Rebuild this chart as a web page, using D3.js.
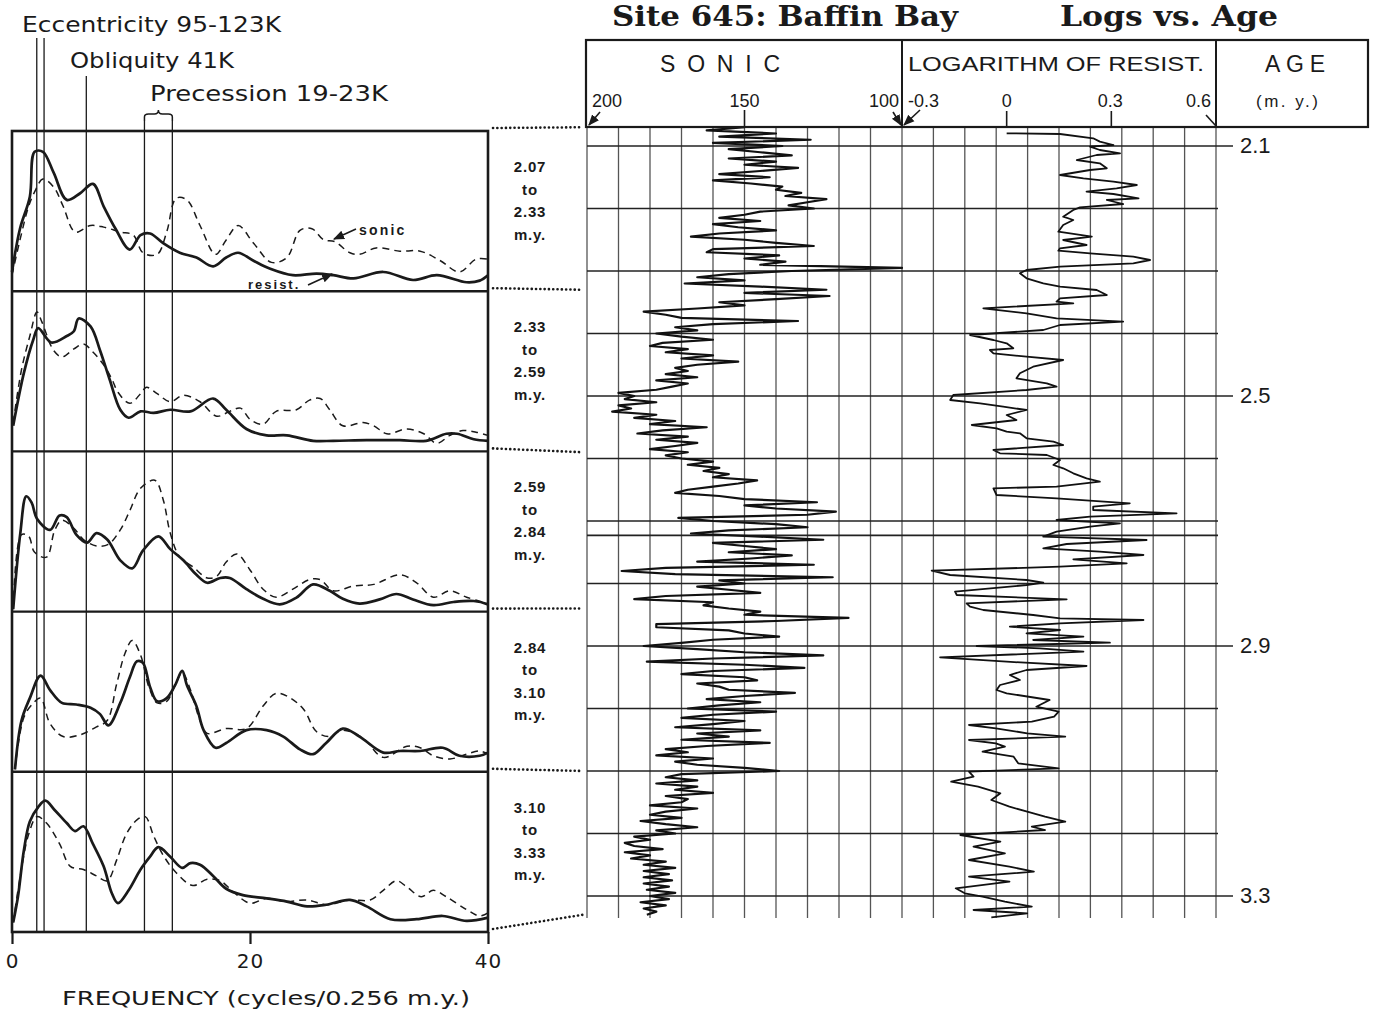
<!DOCTYPE html>
<html>
<head>
<meta charset="utf-8">
<script src="https://cdn.jsdelivr.net/npm/d3@7"></script>
<style>
  body { margin: 0; background: #fff; }
  svg { display: block; }
</style>
</head>
<body>
<svg id="fig" width="1376" height="1011"></svg>
<script>
// ---------- Orbital cycles (periods in thousands of years) ----------
const eccentricityK = [123, 95];
const obliquityK = [41];
const precessionK = [23, 19];
const windowK = 256;               // spectral window length: 0.256 m.y.
const freqTicks = [0, 20, 40];

// ---------- Age windows of the five spectra ----------
const windowBounds = [2.07, 2.33, 2.59, 2.84, 3.10, 3.33];
const windowLabels = ["2.07", "2.33", "2.59", "2.84", "3.10", "3.33"];

// ---------- Power spectra: [frequency, relative power 0-100] ----------
const sonicSpec1 = [[0,10],[0.67,32],[1.4,53],[1.9,62],[2.6,70],[3.5,65],[4.3,53],[5.3,37],[6.6,41],[7.7,40],[9.1,37],[10.2,35],[11,24],[12.2,23],[13,37],[13.8,58],[14.7,57],[15.8,41],[17.1,23],[18,32],[19,41],[20.3,30],[21.8,18],[23.1,21],[24.2,38],[25.2,39],[26.2,32],[27.1,31],[28.4,24],[29.2,23],[30.6,27],[32.6,25],[34.3,25],[36,19],[37.6,12],[39,20],[40,20]];
const resistSpec1 = [[0,12],[0.67,39],[1.5,59],[1.9,87],[2.6,87],[3.5,74],[4.6,57],[5.7,61],[6.8,67],[7.7,53],[8.7,39],[9.9,26],[10.8,35],[11.6,36],[12.7,30],[14.1,24],[15.5,21],[16.9,15.5],[18,21],[19,24],[20.3,19],[21.7,14],[23.6,10],[25.6,11],[27,10],[28.7,8],[31.2,12],[33.7,7],[35.7,10],[38.2,5.6],[39.3,6.6],[40,10]];

const sonicSpec2 = [[0.1,18],[0.8,51],[1.5,72],[2.1,87],[2.5,81],[3.5,63],[4.2,59],[5.2,64],[6,67],[6.8,62],[7.7,54],[8.4,45],[8.9,37],[9.9,30],[10.8,36],[11.3,40],[12.2,36],[13.3,31],[14.4,35],[15.8,31],[17.2,22],[18.3,25],[19.2,27],[20,20],[21.1,17],[22.2,25],[23.9,26],[25,32],[25.9,33],[26.7,26],[27.8,16],[29.5,18],[30.4,16],[31.5,11],[33.2,14],[34.6,11],[35.7,5],[36.8,10],[37.9,13],[39,12],[40,10]];
const resistSpec2 = [[0.1,16],[1,49],[1.8,70],[2.2,77],[3.3,68],[4.6,72],[5.2,75],[5.6,83],[6.6,78],[7.4,63],[8.2,45],[9.1,26],[9.8,21],[10.8,25],[11.9,24],[13.3,26],[15,25],[16.9,33],[18,26],[19.7,14],[21.4,10],[23.1,10],[25.3,6.6],[27,6.6],[29.8,7],[32.6,7],[34.8,6.6],[36.5,11],[37.4,11],[38.8,7.6],[40,6.6]];

const sonicSpec3 = [[0.1,1.5],[0.8,48],[1.4,47],[1.9,37],[2.9,34],[3.6,51],[4.2,57],[5.2,52],[6,45],[7.1,41],[8.1,42],[9.1,51],[9.9,63],[10.8,77],[12,82],[12.7,70],[13.3,49],[14.1,34],[15.2,28],[16.4,21],[17.2,22],[18,31],[18.9,36],[20,26],[21.1,14],[22.2,9],[23.6,14],[25,20],[25.9,20],[27,13],[28.7,16],[30.4,17],[32.6,23],[34,18],[35.4,9],[36.8,13],[38.2,9],[40,5]];
const resistSpec3 = [[0.1,1.5],[0.7,49],[1.2,72],[1.65,68],[2.1,58],[3.2,51],[4,60],[4.6,59],[5.4,48],[6.3,43],[7.1,49],[8,45],[9.1,32],[10.1,27],[11,38],[12.3,47],[13.3,39],[14.4,32],[15.5,23],[16.4,18],[17.5,21],[18.3,21],[19.7,14],[21.1,8],[22.5,4.5],[23.9,8.7],[25.3,17],[26.7,13],[27.8,8],[29.2,5],[30.9,7.6],[32.3,11],[33.7,7.6],[35.4,4],[37.1,6],[38.8,6.6],[40,4.5]];

const sonicSpec4 = [[0.25,1.5],[1,34],[1.8,43],[2.4,46],[3.2,30],[4.3,22],[5.7,23],[7.1,28],[8,32],[8.8,55],[9.5,74],[10.1,82],[10.8,73],[11.5,53],[12.2,43],[13,44],[13.7,54],[14.3,62],[15,51],[15.8,32],[16.4,24],[18,27],[19.7,27],[21.1,41],[22.2,49],[23.4,46],[24.5,39],[25.6,25],[26.7,22],[27.8,26],[29.5,21],[31.2,9],[33.2,16],[34.3,15],[35.4,10],[36.8,8],[38.2,11],[39.3,13],[40,11]];
const resistSpec4 = [[0.25,1.5],[0.8,32],[1.5,46],[2.4,60],[3.2,51],[4.2,43],[5.4,42],[6.6,40],[7.4,36],[8.1,29],[9.1,43],[9.9,59],[10.5,69],[11,68],[11.6,53],[12.2,44],[13,46],[13.7,54],[14.3,63],[14.7,54],[15.5,41],[16.1,26],[17.1,15],[18,18],[19.7,26],[21.4,26],[22.8,22],[24.2,14],[25.3,11],[26.4,18],[27.8,27],[29.2,22],[31.2,12],[32.6,13],[34.3,13],[36.2,15],[37.6,10],[39.3,10],[40,12]];

const sonicSpec5 = [[0.1,6],[0.7,35],[1.4,61],[2.1,72],[2.9,68],[4,55],[4.9,41],[6,39],[7.1,35],[8,32],[8.8,45],[9.6,61],[10.5,70],[11.2,72],[11.9,60],[12.7,48],[13.8,37],[15.2,29],[16.4,33],[17.5,32],[18.6,25],[20,18],[21.4,21],[23.1,19],[24.8,20],[26.4,17],[28.4,20],[30.1,20],[31.2,26],[32.3,32],[33.2,28],[34.4,22],[35.4,26],[36.5,22],[38.2,14],[39.3,10],[40,12]];
const resistSpec5 = [[0.1,6],[0.5,22],[1,51],[1.5,69],[2.2,78],[2.8,82],[3.6,76],[4.6,68],[5.3,63],[6,66],[6.8,55],[7.7,41],[8.4,24],[8.9,18],[9.8,26],[10.8,39],[11.6,47],[12.3,53],[13.3,47],[14.3,40],[15,43],[15.8,42],[16.9,35],[18,27],[19.4,23],[21.4,21],[23.1,19],[24.8,16],[26.4,17],[28.4,20],[29.8,16],[31.8,8],[34,8],[36.2,10],[38.2,7],[40,9]];

// ---------- Well logs vs. age ----------
const sonicStart = 2.07, sonicStep = 0.005;   // m.y.
const sonicLog = [
  150,162,140,158,129,160,138,155,145,135,
  155,140,150,133,145,158,142,160,148,138,
  140,132,137,124,130,136,128,145,150,158,
  145,160,152,140,158,167,150,140,128,160,
  162,139,150,137,145,100,135,155,165,150,
  169,145,124,150,123,140,158,150,165,182,
  175,170,133,160,172,165,178,170,160,176,
  180,168,175,160,170,152,165,172,168,175,
  165,178,168,173,178,190,185,188,178,190,
  186,192,178,185,172,180,162,176,184,168,
  178,165,172,180,168,175,170,160,168,158,
  163,155,160,146,152,160,168,172,158,150,
  127,150,140,121,130,171,160,140,130,155,
  167,145,125,160,150,140,155,135,148,165,
  128,175,189,172,122,158,150,165,155,145,
  175,185,160,163,155,145,150,117,140,178,
  178,155,150,139,160,170,182,165,150,125,
  160,181,150,131,160,170,150,146,165,158,
  155,134,150,162,145,158,168,140,160,170,
  150,160,172,145,165,155,170,142,162,175,
  168,178,160,172,165,150,139,170,175,165,
  178,165,172,160,175,168,170,180,165,175,
  180,170,183,175,165,178,172,185,180,188,
  185,176,188,180,186,175,182,172,182,174,
  182,173,182,174,181,172,180,174,183,175,
  182,178,181
];

// log10 resistivity: [age m.y., value]
const resistLog = [
  [2.0797,0.0],[2.0808,0.153],[2.0877,0.248],[2.093,0.267],[2.0984,0.306],[2.101,0.239],[2.1064,0.267],[2.1117,0.325],
  [2.1144,0.258],[2.1224,0.201],[2.1277,0.267],[2.1357,0.287],[2.1384,0.239],[2.1464,0.153],[2.1517,0.220],[2.1571,0.306],
  [2.1624,0.373],[2.1677,0.315],[2.1731,0.229],[2.1768,0.306],[2.1837,0.378],[2.1864,0.287],[2.1928,0.334],[2.1981,0.210],
  [2.2024,0.191],[2.2131,0.162],[2.2184,0.191],[2.2264,0.162],[2.2371,0.148],[2.2451,0.244],[2.2504,0.162],[2.2584,0.229],
  [2.2637,0.153],[2.2675,0.148],[2.2717,0.239],[2.2771,0.363],[2.2824,0.411],[2.2877,0.363],[2.2931,0.153],[2.2984,0.057],
  [2.3037,0.038],[2.3117,0.057],[2.3197,0.105],[2.3251,0.153],[2.3304,0.258],[2.3384,0.287],[2.3437,0.153],[2.3491,0.143],
  [2.3517,0.191],[2.3597,-0.067],[2.3677,0.057],[2.3757,0.143],[2.3811,0.334],[2.3864,0.153],[2.3944,0.105],[2.4024,-0.105],
  [2.4104,-0.038],[2.4157,0.0],[2.4237,0.019],[2.4264,-0.048],[2.4317,-0.038],[2.4371,0.057],[2.4424,0.162],[2.4531,0.076],
  [2.4637,0.038],[2.4717,0.028],[2.4797,0.115],[2.4851,0.143],[2.4904,0.057],[2.4984,-0.153],[2.5064,-0.162],[2.5117,-0.076],
  [2.5171,-0.010],[2.5224,0.057],[2.5304,0.0],[2.5384,0.028],[2.5464,-0.10],[2.5517,-0.029],[2.5571,0.0],[2.5597,0.038],
  [2.5677,0.057],[2.5731,0.134],[2.5784,0.162],[2.5864,-0.038],[2.5917,-0.019],[2.5944,0.115],[2.6024,0.153],[2.6104,0.134],
  [2.6157,0.162],[2.6237,0.191],[2.6317,0.229],[2.6371,0.267],[2.6451,0.143],[2.6477,-0.038],[2.6584,-0.029],[2.6637,0.143],
  [2.6717,0.353],[2.6771,0.248],[2.6824,0.248],[2.6877,0.487],[2.6931,0.239],[2.6984,0.143],[2.7037,0.325],[2.7091,0.239],
  [2.7171,0.143],[2.7251,0.105],[2.7304,0.401],[2.7368,0.172],[2.7437,0.105],[2.7491,0.267],[2.7544,0.392],[2.7613,0.191],
  [2.7677,0.344],[2.7731,0.153],[2.7795,-0.215],[2.7864,-0.162],[2.7944,0.057],[2.7987,0.105],[2.8024,0.057],[2.8131,-0.148],
  [2.8184,-0.143],[2.8253,0.172],[2.8317,-0.115],[2.8371,-0.105],[2.8424,-0.067],[2.8504,0.076],[2.8557,0.153],[2.8584,0.392],
  [2.8637,0.153],[2.8691,0.009],[2.8744,0.153],[2.8797,0.057],[2.8851,0.220],[2.8904,0.076],[2.8947,0.296],[2.9,-0.086],
  [2.9037,0.095],[2.9091,0.220],[2.9181,-0.191],[2.9251,0.0],[2.932,0.229],[2.9384,0.057],[2.9464,0.009],[2.9544,0.038],
  [2.9624,-0.019],[2.9704,-0.029],[2.9757,0.0],[2.9864,0.123],[2.9971,0.085],[3.0051,0.149],[3.0131,0.136],[3.0211,0.072],
  [3.0264,-0.108],[3.0317,-0.031],[3.0397,0.059],[3.0451,0.168],[3.0504,-0.108],[3.0557,-0.031],[3.0611,-0.005],[3.0691,-0.069],
  [3.0771,0.02],[3.0877,0.033],[3.0957,0.149],[3.1011,-0.108],[3.1091,-0.095],[3.1171,-0.159],[3.1251,-0.082],[3.1357,-0.018],
  [3.1464,-0.044],[3.1571,0.008],[3.1651,0.059],[3.1731,0.110],[3.1811,0.168],[3.1891,0.072],[3.1944,0.110],[3.2024,-0.133],
  [3.2131,-0.018],[3.2211,-0.095],[3.2317,-0.005],[3.2424,-0.108],[3.2531,0.008],[3.2611,0.078],[3.2691,-0.108],[3.2771,0.008],
  [3.2877,-0.146],[3.2957,-0.120],[3.3011,-0.069],[3.3091,-0.005],[3.3171,0.072],[3.3224,-0.095],[3.3277,0.059],[3.3341,-0.044]
];

const sonicTicks = [200, 150, 100];
const resistTicks = [-0.3, 0, 0.3, 0.6];
const ageTicks = [2.1, 2.5, 2.9, 3.3];
const ageGrid = [2.1, 2.2, 2.3, 2.4, 2.5, 2.6, 2.7, 2.723, 2.8, 2.9, 3.0, 3.1, 3.2, 3.3];

// ---------- Drawing ----------
const svg = d3.select("#fig");
const sans = "'Liberation Sans', Arial, sans-serif";
const wide = "'DejaVu Sans', sans-serif";
const serif = "'DejaVu Serif', 'Liberation Serif', serif";
const ink = "#1a1a1a";

const defs = svg.append("defs");
defs.append("marker").attr("id", "arrow").attr("viewBox", "0 0 10 10")
  .attr("refX", 9).attr("refY", 5).attr("markerWidth", 7).attr("markerHeight", 7)
  .attr("orient", "auto-start-reverse")
  .append("path").attr("d", "M0,1 L10,5 L0,9 z").attr("fill", ink);

// scales
const freqX = d3.scaleLinear().domain([0, 40]).range([12, 488]);
const panelEdge = d3.scaleLinear().domain([0, 5]).range([131, 932]);
const ageY = d3.scaleLinear().domain([2.1, 3.3]).range([146, 896]);
const sonicX = d3.scaleLinear().domain([200, 100]).range([587, 902]);
const resistX = d3.scaleLinear().domain([-0.3, 0.6]).range([902, 1216]);

// ----- spectral panels -----
const spec = svg.append("g");
const specSets = [
  [sonicSpec1, resistSpec1], [sonicSpec2, resistSpec2], [sonicSpec3, resistSpec3],
  [sonicSpec4, resistSpec4], [sonicSpec5, resistSpec5]
];

// orbital period lines
const cycleGroups = [
  { label: "Eccentricity 95-123K", periods: eccentricityK, top: 38, tx: 22, ty: 32, len: 259 },
  { label: "Obliquity 41K", periods: obliquityK, top: 76, tx: 70, ty: 68, len: 164 },
  { label: "Precession 19-23K", periods: precessionK, top: 121, tx: 150, ty: 101, len: 238 }
];
cycleGroups.forEach(c => {
  c.periods.forEach(p => {
    spec.append("line")
      .attr("x1", freqX(windowK / p)).attr("x2", freqX(windowK / p))
      .attr("y1", c.top).attr("y2", panelEdge(5))
      .attr("stroke", ink).attr("stroke-width", 1.3);
  });
  spec.append("text").attr("x", c.tx).attr("y", c.ty)
    .attr("font-family", wide).attr("font-size", 22).attr("fill", ink)
    .attr("textLength", c.len).attr("lengthAdjust", "spacingAndGlyphs")
    .text(c.label);
});
// brace over the precession band
{
  const a = freqX(windowK / precessionK[0]), b = freqX(windowK / precessionK[1]), m = (a + b) / 2;
  spec.append("path")
    .attr("d", `M${a},121 L${a},117 Q${a},114 ${a + 4},114 L${m - 4},114 Q${m},114 ${m},110 Q${m},114 ${m + 4},114 L${b - 4},114 Q${b},114 ${b},117 L${b},121`)
    .attr("fill", "none").attr("stroke", ink).attr("stroke-width", 1.5);
}

specSets.forEach(([son, res], i) => {
  const y = d3.scaleLinear().domain([0, 100]).range([panelEdge(i + 1), panelEdge(i)]);
  const line = d3.line().x(d => freqX(d[0])).y(d => y(d[1])).curve(d3.curveCatmullRom.alpha(0.5));
  spec.append("path").attr("d", line(son)).attr("fill", "none")
    .attr("stroke", ink).attr("stroke-width", 1.5).attr("stroke-dasharray", "7,5");
  spec.append("path").attr("d", line(res)).attr("fill", "none")
    .attr("stroke", ink).attr("stroke-width", 2.7).attr("stroke-linejoin", "round");
});

// panel frame and dividers
spec.append("rect")
  .attr("x", freqX(0)).attr("y", panelEdge(0))
  .attr("width", freqX(40) - freqX(0)).attr("height", panelEdge(5) - panelEdge(0))
  .attr("fill", "none").attr("stroke", ink).attr("stroke-width", 2.6);
d3.range(1, 5).forEach(i => {
  spec.append("line").attr("x1", freqX(0)).attr("x2", freqX(40))
    .attr("y1", panelEdge(i)).attr("y2", panelEdge(i))
    .attr("stroke", ink).attr("stroke-width", 2.4);
});

// frequency axis
const fAxis = spec.append("g").attr("transform", `translate(0,${panelEdge(5)})`)
  .call(d3.axisBottom(freqX).tickValues(freqTicks).tickSize(12).tickPadding(6).tickFormat(d3.format("d")));
fAxis.select(".domain").remove();
fAxis.selectAll(".tick line").attr("stroke", ink).attr("stroke-width", 2.2);
fAxis.selectAll(".tick text").attr("font-family", wide).attr("font-size", 20).attr("fill", ink)
  .attr("dy", "0.9em").attr("letter-spacing", 1);
spec.append("text").attr("x", 62).attr("y", 1005)
  .attr("font-family", wide).attr("font-size", 20).attr("fill", ink)
  .attr("textLength", 408).attr("lengthAdjust", "spacingAndGlyphs")
  .text("FREQUENCY (cycles/0.256 m.y.)");

// series annotations
spec.append("text").attr("x", 359).attr("y", 235)
  .attr("font-family", sans).attr("font-weight", "bold").attr("font-size", 14)
  .attr("letter-spacing", 2.2).attr("fill", ink).text("sonic");
spec.append("line").attr("x1", 356).attr("y1", 229).attr("x2", 334).attr("y2", 239)
  .attr("stroke", ink).attr("stroke-width", 1.6).attr("marker-end", "url(#arrow)");
spec.append("text").attr("x", 248).attr("y", 289)
  .attr("font-family", sans).attr("font-weight", "bold").attr("font-size", 13)
  .attr("letter-spacing", 2).attr("fill", ink).text("resist.");
spec.append("line").attr("x1", 308).attr("y1", 285).attr("x2", 332).attr("y2", 274)
  .attr("stroke", ink).attr("stroke-width", 1.6).attr("marker-end", "url(#arrow)");

// ----- connectors between spectra and log ages -----
windowBounds.forEach((a, i) => {
  svg.append("line")
    .attr("x1", freqX(40) + 5).attr("y1", panelEdge(i) - 3)
    .attr("x2", sonicX(200) - 4).attr("y2", ageY(a))
    .attr("stroke", ink).attr("stroke-width", 2.6)
    .attr("stroke-dasharray", "0.1,4.2").attr("stroke-linecap", "round");
});
d3.range(5).forEach(i => {
  const mid = (panelEdge(i) + panelEdge(i + 1)) / 2 - 9;
  const lines = [windowLabels[i], "to", windowLabels[i + 1], "m.y."];
  lines.forEach((t, k) => {
    svg.append("text").attr("x", 530).attr("y", mid - 34 + k * 22.5)
      .attr("text-anchor", "middle").attr("dominant-baseline", "middle")
      .attr("font-family", sans).attr("font-weight", "bold").attr("font-size", 15).attr("fill", ink)
      .attr("letter-spacing", 0.8)
      .text(t);
  });
});

// ----- log tracks -----
const logs = svg.append("g");
const gridTop = 127, gridBottom = 918;

// vertical grid: 10 divisions per track
d3.range(200, 99, -10).forEach(v => {
  logs.append("line").attr("x1", sonicX(v)).attr("x2", sonicX(v))
    .attr("y1", gridTop).attr("y2", gridBottom)
    .attr("stroke", "#555").attr("stroke-width", 1.3);
});
d3.range(1, 11).forEach(k => {
  const v = -0.3 + k * 0.09;
  logs.append("line").attr("x1", resistX(v)).attr("x2", resistX(v))
    .attr("y1", gridTop).attr("y2", gridBottom)
    .attr("stroke", "#555").attr("stroke-width", 1.3);
});
// horizontal grid every 0.1 m.y.
ageGrid.forEach(a => {
  const major = ageTicks.some(t => Math.abs(t - a) < 1e-6);
  logs.append("line").attr("x1", sonicX(200)).attr("x2", major ? resistX(0.6) + 17 : resistX(0.6) + 2)
    .attr("y1", ageY(a)).attr("y2", ageY(a))
    .attr("stroke", "#222").attr("stroke-width", 1.6);
});
ageTicks.forEach(a => {
  logs.append("text").attr("x", 1240).attr("y", ageY(a) + 1)
    .attr("dominant-baseline", "middle")
    .attr("font-family", sans).attr("font-size", 22).attr("fill", ink)
    .text(d3.format(".1f")(a));
});

// sonic trace
const sonicPts = sonicLog.map((v, i) => [sonicStart + i * sonicStep, v]);
logs.append("path")
  .attr("d", d3.line().x(d => sonicX(d[1])).y(d => ageY(d[0]))(sonicPts))
  .attr("fill", "none").attr("stroke", "#111").attr("stroke-width", 2.2).attr("stroke-linejoin", "round");
// resistivity trace
logs.append("path")
  .attr("d", d3.line().x(d => resistX(d[1])).y(d => ageY(d[0]))(resistLog))
  .attr("fill", "none").attr("stroke", "#111").attr("stroke-width", 1.8).attr("stroke-linejoin", "round");

// ----- header -----
const head = svg.append("g");
head.append("rect").attr("x", 586).attr("y", 40).attr("width", 782).attr("height", 87)
  .attr("fill", "none").attr("stroke", ink).attr("stroke-width", 2.2);
[sonicX(100), resistX(0.6)].forEach(xv => {
  head.append("line").attr("x1", xv).attr("x2", xv).attr("y1", 40).attr("y2", 127)
    .attr("stroke", ink).attr("stroke-width", 2);
});
head.append("text").attr("x", 612).attr("y", 26)
  .attr("font-family", serif).attr("font-weight", "bold").attr("font-size", 28).attr("fill", ink)
  .attr("textLength", 346).attr("lengthAdjust", "spacingAndGlyphs")
  .text("Site 645: Baffin Bay");
head.append("text").attr("x", 1060).attr("y", 26)
  .attr("font-family", serif).attr("font-weight", "bold").attr("font-size", 28).attr("fill", ink)
  .attr("textLength", 218).attr("lengthAdjust", "spacingAndGlyphs")
  .text("Logs vs. Age");
head.append("text").attr("x", 660).attr("y", 72)
  .attr("font-family", sans).attr("font-size", 23).attr("fill", ink)
  .attr("textLength", 120).attr("lengthAdjust", "spacing")
  .text("SONIC");
head.append("text").attr("x", 908).attr("y", 71)
  .attr("font-family", sans).attr("font-size", 21).attr("fill", ink)
  .attr("textLength", 296).attr("lengthAdjust", "spacingAndGlyphs")
  .text("LOGARITHM OF RESIST.");
head.append("text").attr("x", 1265).attr("y", 72)
  .attr("font-family", sans).attr("font-size", 23).attr("fill", ink)
  .attr("textLength", 60).attr("lengthAdjust", "spacing")
  .text("AGE");
head.append("text").attr("x", 1256).attr("y", 107)
  .attr("font-family", sans).attr("font-size", 17).attr("fill", ink)
  .attr("textLength", 62).attr("lengthAdjust", "spacing")
  .text("(m. y.)");

// scale labels
const scaleText = (x, t, anchor) => head.append("text").attr("x", x).attr("y", 107)
  .attr("text-anchor", anchor).attr("font-family", sans).attr("font-size", 18).attr("fill", ink).text(t);
scaleText(sonicX(200) + 5, sonicTicks[0], "start");
scaleText(sonicX(150), sonicTicks[1], "middle");
scaleText(sonicX(100) - 3, sonicTicks[2], "end");
scaleText(resistX(-0.3) + 6, "-0.3", "start");
scaleText(resistX(0), "0", "middle");
scaleText(resistX(0.3) - 1, "0.3", "middle");
scaleText(resistX(0.6) - 5, "0.6", "end");

// scale markers
[150].forEach(v => head.append("line").attr("x1", sonicX(v)).attr("x2", sonicX(v))
  .attr("y1", 110).attr("y2", 127).attr("stroke", ink).attr("stroke-width", 1.6));
[0, 0.3].forEach(v => head.append("line").attr("x1", resistX(v)).attr("x2", resistX(v))
  .attr("y1", 111).attr("y2", 127).attr("stroke", ink).attr("stroke-width", 1.6));
const pointer = (x1, y1, x2, y2, arrow) => head.append("line")
  .attr("x1", x1).attr("y1", y1).attr("x2", x2).attr("y2", y2)
  .attr("stroke", ink).attr("stroke-width", 1.6)
  .attr("marker-end", arrow ? "url(#arrow)" : null);
pointer(sonicX(200) + 13, 112, sonicX(200) + 2, 125, true);
pointer(sonicX(100) - 9, 112, sonicX(100) - 1, 125, true);
pointer(resistX(-0.3) + 18, 110, resistX(-0.3) + 2, 125, true);
pointer(resistX(0.6) - 10, 115, resistX(0.6), 126, false);
</script>
</body>
</html>
